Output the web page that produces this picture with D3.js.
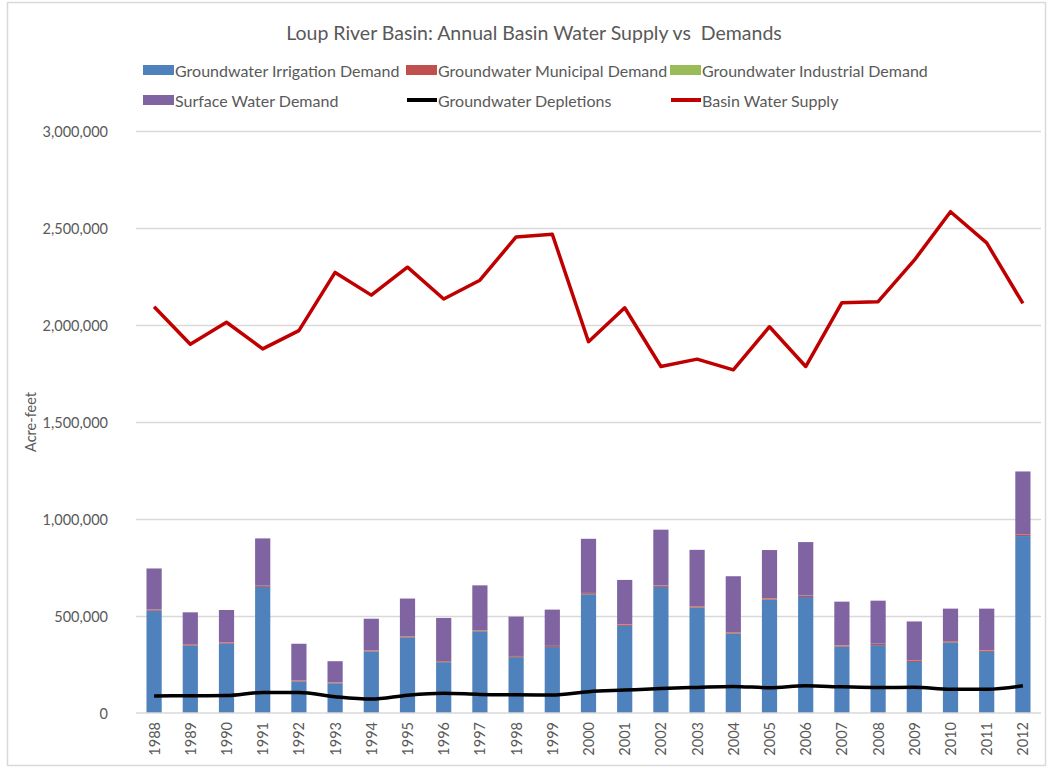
<!DOCTYPE html>
<html>
<head>
<meta charset="utf-8">
<script src="https://cdn.jsdelivr.net/npm/d3@7"></script>
<style>
  body { margin: 0; background: #fff; }
  svg text { font-family: Lato, "Open Sans", sans-serif; fill: #595959; }
  .grid line { stroke: #d9d9d9; stroke-width: 1.5; }
  .grid path { display: none; }
</style>
</head>
<body>
<svg id="chart" width="1051" height="773"></svg>
<script>
// data (acre-feet)
const years = ["1988","1989","1990","1991","1992","1993","1994","1995","1996","1997","1998","1999","2000",
  "2001","2002","2003","2004","2005","2006","2007","2008","2009","2010","2011","2012"];
const gwIrrigation = [527000, 347000, 357000, 650000, 162000, 153000, 317000, 390000, 262000, 421000, 288000, 340000, 612000,
  449000, 650000, 544000, 410000, 585000, 598000, 342000, 350000, 263000, 364000, 315000, 912000];
const gwMunicipal = [5000, 4000, 5000, 5000, 4000, 4000, 4000, 5000, 5000, 5000, 5000, 5000, 6000,
  6000, 6000, 6000, 6000, 6000, 6000, 6000, 6000, 6000, 6000, 6000, 6000];
const gwIndustrial = [1000, 1000, 1000, 1000, 1000, 1000, 1000, 1000, 1000, 1000, 1000, 1000, 1000,
  1000, 1000, 1000, 1000, 1000, 1000, 1000, 1000, 1000, 1000, 1000, 1000];
const surfaceWater = [212000, 167000, 168000, 244000, 190000, 109000, 164000, 194000, 222000, 231000, 203000, 187000, 279000,
  230000, 288000, 290000, 288000, 248000, 276000, 225000, 222000, 202000, 167000, 216000, 326000];
const gwDepletions = [88000, 89000, 90000, 106000, 106000, 84000, 72000, 92000, 102000, 96000, 94000, 93000, 110000,
  118000, 126000, 132000, 137000, 130000, 140000, 135000, 131000, 133000, 122000, 122000, 140000];
const basinSupply = [2094000, 1901000, 2014000, 1877000, 1971000, 2271000, 2154000, 2298000, 2134000, 2231000, 2454000, 2468000, 1914000,
  2089000, 1786000, 1824000, 1769000, 1991000, 1786000, 2115000, 2120000, 2334000, 2584000, 2423000, 2111000];
const yTicks = [0, 500000, 1000000, 1500000, 2000000, 2500000, 3000000];

const barKeys = ["irr", "muni", "ind", "surf"];
const barColors = { irr: "#4f81bd", muni: "#c0504d", ind: "#9bbb59", surf: "#8064a2" };

const svg = d3.select("#chart");

// outer frame
svg.append("rect").attr("x", 7.5).attr("y", 2.5).attr("width", 1038).attr("height", 763)
  .attr("fill", "none").attr("stroke", "#d9d9d9").attr("stroke-width", 1.5);

const x = d3.scaleBand().domain(years).range([136, 1041])
  .paddingInner(0.58).paddingOuter(0.29);
const y = d3.scaleLinear().domain([0, 3000000]).range([713, 131]);

// gridlines
svg.append("g").attr("class", "grid")
  .attr("transform", "translate(136,0)")
  .call(d3.axisLeft(y).tickValues(yTicks.slice(1)).tickSize(-905).tickFormat(""));

// y labels
svg.append("g").selectAll("text").data(yTicks).join("text")
  .attr("x", 108).attr("y", d => y(d))
  .attr("text-anchor", "end").attr("dominant-baseline", "central")
  .style("font-size", "14.5px")
  .text(d => d3.format(",")(d));

svg.append("text")
  .attr("transform", "translate(30,422) rotate(-90)")
  .attr("text-anchor", "middle").attr("dominant-baseline", "central")
  .style("font-size", "14.5px")
  .text("Acre-feet");

// stacked bars
const rows = years.map((yr, i) => ({
  year: yr, irr: gwIrrigation[i], muni: gwMunicipal[i], ind: gwIndustrial[i], surf: surfaceWater[i]
}));
const stacked = d3.stack().keys(barKeys)(rows);

svg.append("g").selectAll("g").data(stacked).join("g")
  .attr("fill", d => barColors[d.key])
  .selectAll("rect").data(d => d).join("rect")
  .attr("x", d => x(d.data.year))
  .attr("width", x.bandwidth())
  .attr("y", d => y(d[1]))
  .attr("height", d => y(d[0]) - y(d[1]));

// baseline
svg.append("line").attr("x1", 136).attr("x2", 1041).attr("y1", y(0)).attr("y2", y(0))
  .attr("stroke", "#d9d9d9").attr("stroke-width", 1.5);

// lines
const cx = (d, i) => x(years[i]) + x.bandwidth() / 2;
svg.append("path").datum(gwDepletions)
  .attr("fill", "none").attr("stroke", "#000").attr("stroke-width", 3.5)
  .attr("stroke-linejoin", "round")
  .attr("d", d3.line().x(cx).y(d => y(d)).curve(d3.curveMonotoneX));

svg.append("path").datum(basinSupply)
  .attr("fill", "none").attr("stroke", "#c00000").attr("stroke-width", 3.5)
  .attr("stroke-linejoin", "round")
  .attr("d", d3.line().x(cx).y(d => y(d)));

// x labels
svg.append("g").selectAll("text").data(years).join("text")
  .attr("transform", d => `translate(${x(d) + x.bandwidth() / 2},722) rotate(-90)`)
  .attr("text-anchor", "end").attr("dominant-baseline", "central")
  .style("font-size", "14.5px")
  .text(d => d);

// title
svg.append("text").attr("x", 534).attr("y", 32)
  .attr("text-anchor", "middle").attr("dominant-baseline", "central")
  .style("font-size", "19.5px")
  .style("white-space", "pre")
  .text("Loup River Basin: Annual Basin Water Supply vs  Demands");

// legend
const legendItems = [
  { label: "Groundwater Irrigation Demand", type: "rect", color: barColors.irr, x: 143, y: 70 },
  { label: "Groundwater Municipal Demand", type: "rect", color: barColors.muni, x: 406, y: 70 },
  { label: "Groundwater Industrial Demand", type: "rect", color: barColors.ind, x: 670, y: 70 },
  { label: "Surface Water Demand", type: "rect", color: barColors.surf, x: 143, y: 100 },
  { label: "Groundwater Depletions", type: "line", color: "#000", x: 406, y: 100 },
  { label: "Basin Water Supply", type: "line", color: "#c00000", x: 670, y: 100 }
];
const leg = svg.append("g").selectAll("g").data(legendItems).join("g")
  .attr("transform", d => `translate(${d.x},${d.y})`);
leg.filter(d => d.type === "rect").append("rect")
  .attr("x", 0).attr("y", -5).attr("width", 31).attr("height", 10)
  .attr("fill", d => d.color);
leg.filter(d => d.type === "line").append("line")
  .attr("x1", 1).attr("x2", 31).attr("y1", 0).attr("y2", 0)
  .attr("stroke", d => d.color).attr("stroke-width", 4);
leg.append("text").attr("x", 32).attr("y", 0)
  .attr("dominant-baseline", "central")
  .style("font-size", "16px")
  .text(d => d.label);
</script>
</body>
</html>
